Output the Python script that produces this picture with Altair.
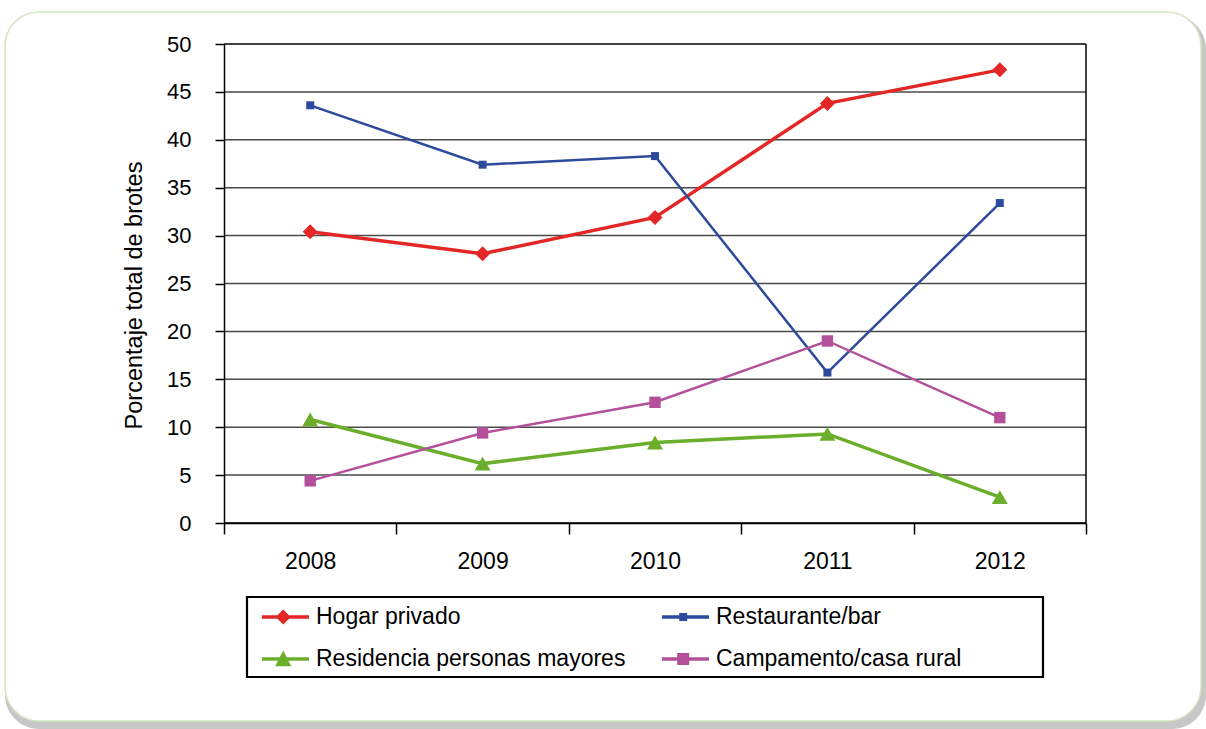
import altair as alt
import pandas as pd

years = ["2008", "2009", "2010", "2011", "2012"]
series = ["Hogar privado", "Restaurante/bar", "Residencia personas mayores", "Campamento/casa rural"]
hogar = [30.4, 28.1, 31.9, 43.8, 47.3]
restaurante = [43.6, 37.4, 38.3, 15.7, 33.4]
residencia = [10.8, 6.2, 8.4, 9.3, 2.7]
campamento = [4.4, 9.4, 12.6, 19.0, 11.0]
colors = ["#E32726", "#2E4A9C", "#6AAE2B", "#B4509A"]
shapes = ["diamond", "square", "triangle-up", "square"]
sizes = [225, 64, 256, 130]
widths = [3.5, 2.5, 3.5, 2.5]
y_ticks = [0, 5, 10, 15, 20, 25, 30, 35, 40, 45, 50]
grid_vals = [5, 10, 15, 20, 25, 30, 35, 40, 45]
border_vals = [0, 50]

rows = []
for name, vals in zip(series, [hogar, restaurante, residencia, campamento]):
    for yr, v in zip(years, vals):
        rows.append({"year": yr, "serie": name, "leyenda": name, "value": v})
df = pd.DataFrame(rows)

FONT = "Liberation Sans"

# legend symbol paths (line + marker), unit = symbol radius
line_p = "M-0.42,-0.14H3.5V0.14H-0.42Z "
leg_paths = [
    line_p + "M1.35,-0.625L1.975,0L1.35,0.625L0.725,0Z",
    line_p + "M1.02,-0.333H1.68V0.333H1.02Z",
    line_p + "M1.35,-0.7L2.02,0.6H0.68Z",
    line_p + "M0.85,-0.5H1.85V0.5H0.85Z",
]

x_enc = alt.X(
    "year:O",
    scale=alt.Scale(type="band", domain=years, paddingInner=0, paddingOuter=0),
    bandPosition=0.5,
    axis=alt.Axis(
        title=None, labelAngle=0, tickBand="extent", tickSize=11, tickColor="black",
        tickWidth=1.5, domainColor="black", domainWidth=1.5, labelFontSize=23,
        labelFont=FONT, labelColor="black", labelPadding=16, grid=False, zindex=1,
    ),
)
y_axis = alt.Axis(
    values=y_ticks, title="Porcentaje total de brotes", titleFontSize=23.5,
    titleFont=FONT, titleFontWeight="normal", titleColor="black", titlePadding=20,
    titleY=251,
    tickSize=9, tickColor="black", tickWidth=1.5, domainColor="black", domainWidth=1.5,
    labelFontSize=22, labelFont=FONT, labelColor="black", labelPadding=24,
    grid=False, zindex=1,
)
y_scale = alt.Scale(domain=[0, 50], nice=False)
y_enc = alt.Y("value:Q", scale=y_scale, axis=y_axis)

one = pd.DataFrame({"a": [0]})
shadow = alt.Chart(one).mark_rect(cornerRadius=34, fill="#bdbdbd", opacity=0.85).encode(
    x=alt.value(-219), x2=alt.value(982), y=alt.value(-29), y2=alt.value(685)
)
frame = alt.Chart(one).mark_rect(
    cornerRadius=34, fill="white", stroke="#d3e6bf", strokeWidth=1.5
).encode(x=alt.value(-219), x2=alt.value(977), y=alt.value(-32), y2=alt.value(677))

# legend box
legend_box = alt.Chart(one).mark_rect(fill="white", stroke="black", strokeWidth=2.2).encode(
    x=alt.value(23), x2=alt.value(819), y=alt.value(553), y2=alt.value(633)
)

grid = alt.Chart(pd.DataFrame({"value": grid_vals})).mark_rule(
    color="#4a4a4a", strokeWidth=1.5
).encode(y=y_enc)
border = alt.Chart(pd.DataFrame({"value": border_vals})).mark_rule(
    color="black", strokeWidth=1.5
).encode(y=y_enc)
right_rule = alt.Chart(one).mark_rule(color="black", strokeWidth=1.5).encode(
    x=alt.value("width"), y=alt.value(0), y2=alt.value("height")
)

lines = alt.Chart(df).mark_line().encode(
    x=x_enc, y=y_enc,
    color=alt.Color("serie:N", scale=alt.Scale(domain=series, range=colors), legend=None),
    strokeWidth=alt.StrokeWidth(
        "serie:N", scale=alt.Scale(type="ordinal", domain=series, range=widths), legend=None
    ),
    detail="serie:N",
)

points = alt.Chart(df).mark_point(filled=True, opacity=1).encode(
    x=x_enc, y=y_enc,
    color=alt.Color("serie:N", scale=alt.Scale(domain=series, range=colors), legend=None),
    shape=alt.Shape("serie:N", scale=alt.Scale(domain=series, range=shapes), legend=None),
    size=alt.Size("serie:N", scale=alt.Scale(type="ordinal", domain=series, range=sizes), legend=None),
)

legend_cfg = dict(
    title=None, orient="none", legendX=23, legendY=553, columns=2,
    direction="horizontal", gridAlign="each", columnPadding=29, rowPadding=18,
    padding=8, labelFont=FONT, labelFontSize=23, labelColor="black", labelOffset=37,
    labelLimit=600, symbolSize=576, symbolStrokeWidth=0, symbolOpacity=1,
)

legend_layer = alt.Chart(df).transform_filter("false").mark_point(
    filled=True, opacity=1, size=576
).encode(
    x=x_enc, y=y_enc,
    color=alt.Color("leyenda:N", scale=alt.Scale(domain=series, range=colors),
                    legend=alt.Legend(**legend_cfg)),
    shape=alt.Shape("leyenda:N", scale=alt.Scale(domain=series, range=leg_paths),
                    legend=alt.Legend(**legend_cfg)),
)

chart = alt.layer(
    shadow, frame, legend_box, grid, border, right_rule, lines, points, legend_layer
).resolve_scale(color="independent", shape="independent").properties(
    width=862, height=479,
    autosize=alt.AutoSizeParams(type="none"),
    padding={"left": 224, "top": 44, "right": 120, "bottom": 206},
    background="white",
).configure_view(stroke=None).configure_legend(strokeWidth=0)

chart.save("out.html", embed_options={"renderer": "svg", "actions": False})
